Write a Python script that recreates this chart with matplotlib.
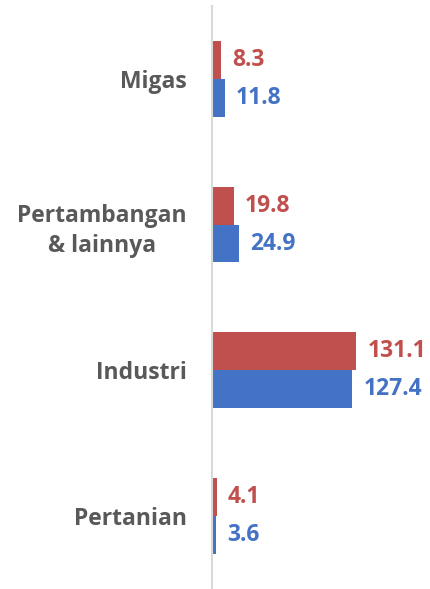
import numpy as np
import matplotlib.pyplot as plt

plt.rcParams["font.family"] = ["Open Sans", "DejaVu Sans"]

# data
kategori = ["Migas", "Pertambangan\n& lainnya", "Industri", "Pertanian"]
nilai_merah = [8.3, 19.8, 131.1, 4.1]
nilai_biru = [11.8, 24.9, 127.4, 3.6]

warna_merah = "#C0504D"
warna_biru = "#4472C4"

fig = plt.figure(figsize=(4.30, 5.89), dpi=100)
ax = fig.add_axes([0.493, 0.0, 0.507, 0.99])

y = np.arange(len(kategori))
h = 0.26
ax.barh(y - h / 2, nilai_merah, height=h, color=warna_merah)
ax.barh(y + h / 2, nilai_biru, height=h, color=warna_biru)

for i in range(len(kategori)):
    ax.text(nilai_merah[i] + 10, y[i] - h / 2, f"{nilai_merah[i]:.1f}", color=warna_merah,
            fontsize=16.5, fontweight="bold", va="center", ha="left")
    ax.text(nilai_biru[i] + 10, y[i] + h / 2, f"{nilai_biru[i]:.1f}", color=warna_biru,
            fontsize=16.5, fontweight="bold", va="center", ha="left")

ax.set_xlim(0, 198)
ax.set_ylim(3.5, -0.5)
ax.set_yticks(y)
ax.set_yticklabels(kategori, fontsize=16.5, fontweight="bold", color="#595959",
                   multialignment="center", linespacing=1.35)
ax.tick_params(axis="y", length=0, pad=18)
ax.set_xticks([])
for s in ["top", "right", "bottom"]:
    ax.spines[s].set_visible(False)
ax.spines["left"].set_color("#D9D9D9")
ax.spines["left"].set_linewidth(1.5)

plt.savefig("out.png", dpi=100)
